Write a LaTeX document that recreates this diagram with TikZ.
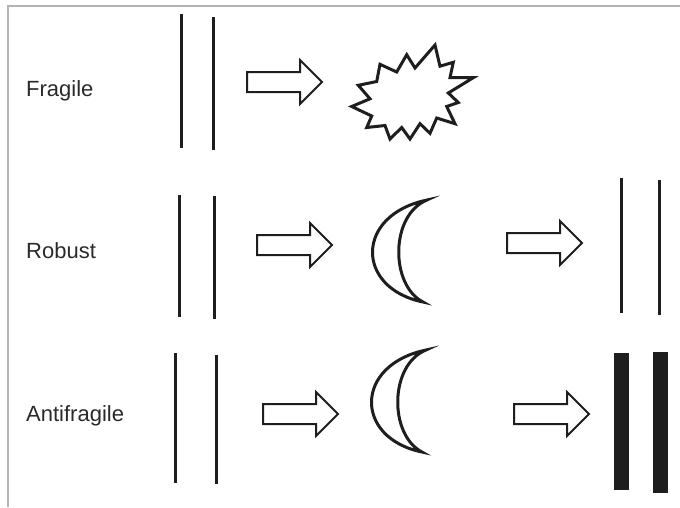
\documentclass[tikz,border=0pt]{standalone}
\usepackage{fontspec}
\setmainfont{Liberation Sans}
\definecolor{ink}{HTML}{1E1E1E}
\definecolor{textink}{HTML}{2A2A2A}
\definecolor{framegray}{HTML}{B4B4B4}

% block arrow, given the middle of its tail end
\newcommand\blockarr[2]{%
  \draw[arrowline] (#1,#2) ++(0,-10) -- ++(53,0) -- ++(0,-12) -- ++(22,22)
    -- ++(-22,22) -- ++(0,-12) -- ++(-53,0) -- cycle;}
% crescent moon, given its centre
\newcommand\moonshape[2]{%
  \draw[shapeline, shift={(#1,#2)}] (27,-51) .. controls (-45,-36) and (-45,37) .. (23,51)
    .. controls (-10,34) and (-10,-36) .. (27,-51) -- cycle;}

\begin{document}
\begin{tikzpicture}[x=1pt,y=-1pt,
  rowlabel/.style={font=\fontsize{22}{24}\selectfont, text=textink, anchor=base west, inner sep=0pt},
  stick/.style={draw=ink, line width=3pt},
  arrowline/.style={draw=ink, line width=2pt, fill=white, line join=miter},
  shapeline/.style={draw=ink, line width=3pt, line join=miter, miter limit=20},
  thickbar/.style={fill=ink, draw=none}]
\useasboundingbox (0,0) rectangle (680,507);

% frame
\draw[framegray, line width=2pt] (680,6) -- (8,6) -- (8,507);

% row labels
\node[rowlabel] (fragile) at (26,96) {Fragile};
\node[rowlabel] (robust) at (26,258) {Robust};
\node[rowlabel] (antifragile) at (26,421) {Antifragile};

% fragile: pair of sticks, arrow, burst
\draw[stick] (181,14) -- (181,148);
\draw[stick] (213,17) -- (213,150);
\blockarr{247}{82}
\draw[shapeline] (351.7,106.5) -- (370,98.8) -- (358.3,85.3) -- (376.7,81.5) -- (380,64.3)
  -- (396.7,72) -- (406.7,54.7) -- (415,68) -- (435,45) -- (440,66.2)
  -- (453.3,62.3) -- (450,77.7) -- (473.3,77.7) -- (448.3,93) -- (458.3,102.5)
  -- (446.7,106.5) -- (455,123.7) -- (436.7,118) -- (430,133.3) -- (420,123.7)
  -- (410,139) -- (401.7,127.5) -- (390,139) -- (385,125.5) -- (366.7,127.5)
  -- (371.7,116) -- cycle;

% robust: sticks, arrow, crescent, arrow, sticks
\draw[stick] (179,195) -- (179,317);
\draw[stick] (214,196) -- (214,319);
\blockarr{257}{245}
\moonshape{400}{251}
\blockarr{507}{243}
\draw[stick] (621,178) -- (621,313);
\draw[stick] (659,180) -- (659,315);

% antifragile: sticks, arrow, crescent, arrow, thick bars
\draw[stick] (175,353) -- (175,483);
\draw[stick] (216,355) -- (216,484);
\blockarr{263}{414}
\moonshape{399}{401}
\blockarr{514}{414}
\fill[thickbar] (614,353) rectangle (629,490);
\fill[thickbar] (653,352) rectangle (668,493);
\end{tikzpicture}
\end{document}
